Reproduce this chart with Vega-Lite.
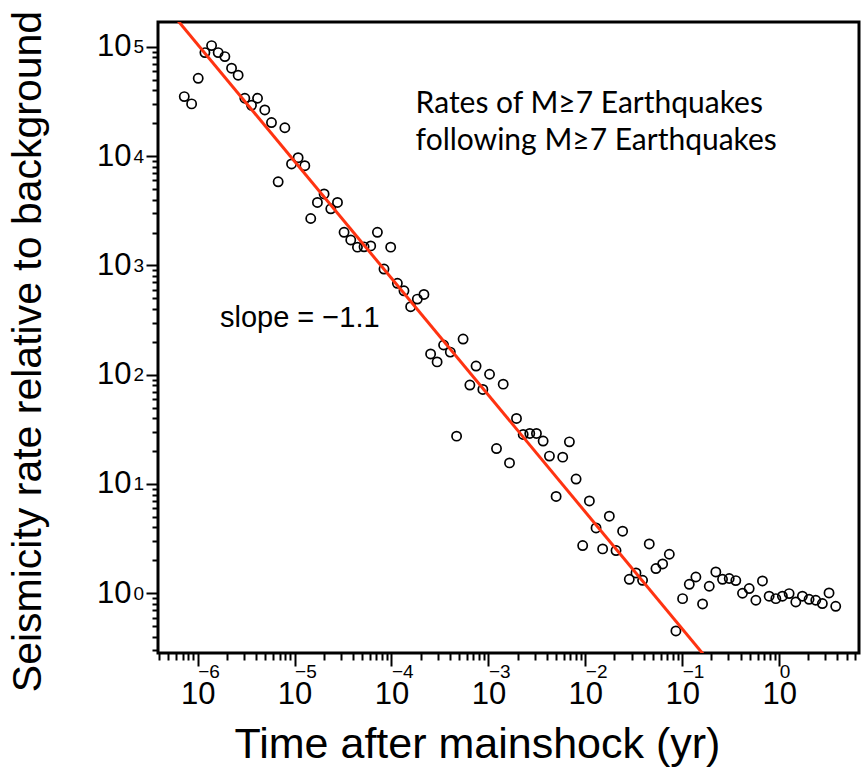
{
  "$schema": "https://vega.github.io/schema/vega-lite/v6.json",
  "autosize": {"type": "none"},
  "padding": {"left": 158, "top": 22, "right": 4, "bottom": 114},
  "width": 701,
  "height": 631,
  "background": "white",
  "config": {
    "view": {"stroke": "black", "strokeWidth": 3},
    "font": "Liberation Sans",
    "axis": {"domain": false, "grid": false, "labelColor": "black", "tickColor": "black", "tickWidth": 2, "labelOverlap": false, "labelFlush": false, "labelBound": false, "titleColor": "black", "titleFontWeight": "normal", "labelFont": "Liberation Sans", "titleFont": "Liberation Sans"}
  },
  "resolve": {"axis": {"x": "independent", "y": "independent"}},
  "layer": [
    {
      "data": {"values": [
        {"time": 7.28e-7, "rate": 35100},
        {"time": 8.67e-7, "rate": 30100},
        {"time": 1.014e-6, "rate": 51600},
        {"time": 1.189e-6, "rate": 88700},
        {"time": 1.393e-6, "rate": 102800},
        {"time": 1.629e-6, "rate": 88700},
        {"time": 1.910e-6, "rate": 81500},
        {"time": 2.239e-6, "rate": 63800},
        {"time": 2.618e-6, "rate": 55100},
        {"time": 3.069e-6, "rate": 33900},
        {"time": 3.597e-6, "rate": 29200},
        {"time": 4.150e-6, "rate": 33900},
        {"time": 4.932e-6, "rate": 26500},
        {"time": 5.781e-6, "rate": 20300},
        {"time": 6.776e-6, "rate": 5830},
        {"time": 7.943e-6, "rate": 18200},
        {"time": 9.311e-6, "rate": 8490},
        {"time": 1.089e-5, "rate": 9680},
        {"time": 1.276e-5, "rate": 8180},
        {"time": 1.469e-5, "rate": 2690},
        {"time": 1.722e-5, "rate": 3770},
        {"time": 2.018e-5, "rate": 4510},
        {"time": 2.366e-5, "rate": 3300},
        {"time": 2.773e-5, "rate": 3770},
        {"time": 3.243e-5, "rate": 2010},
        {"time": 3.802e-5, "rate": 1710},
        {"time": 4.457e-5, "rate": 1470},
        {"time": 5.212e-5, "rate": 1480},
        {"time": 6.109e-5, "rate": 1510},
        {"time": 7.161e-5, "rate": 2010},
        {"time": 8.375e-5, "rate": 927},
        {"time": 9.817e-5, "rate": 1470},
        {"time": 1.151e-4, "rate": 686},
        {"time": 1.346e-4, "rate": 586},
        {"time": 1.578e-4, "rate": 419},
        {"time": 1.849e-4, "rate": 492},
        {"time": 2.163e-4, "rate": 543},
        {"time": 2.535e-4, "rate": 155},
        {"time": 2.958e-4, "rate": 131},
        {"time": 3.451e-4, "rate": 187},
        {"time": 4.046e-4, "rate": 161},
        {"time": 4.699e-4, "rate": 27.4},
        {"time": 5.483e-4, "rate": 212},
        {"time": 6.442e-4, "rate": 80.4},
        {"time": 7.464e-4, "rate": 120},
        {"time": 8.770e-4, "rate": 73.3},
        {"time": 1.028e-3, "rate": 101},
        {"time": 1.213e-3, "rate": 21.1},
        {"time": 1.422e-3, "rate": 82.0},
        {"time": 1.652e-3, "rate": 15.6},
        {"time": 1.950e-3, "rate": 39.8},
        {"time": 2.286e-3, "rate": 28.4},
        {"time": 2.673e-3, "rate": 29.0},
        {"time": 3.133e-3, "rate": 29.0},
        {"time": 3.673e-3, "rate": 24.7},
        {"time": 4.266e-3, "rate": 18.0},
        {"time": 5.000e-3, "rate": 7.69},
        {"time": 5.848e-3, "rate": 17.6},
        {"time": 6.855e-3, "rate": 24.3},
        {"time": 8.035e-3, "rate": 11.1},
        {"time": 9.397e-3, "rate": 2.735},
        {"time": 1.102e-2, "rate": 7.00},
        {"time": 1.291e-2, "rate": 3.963},
        {"time": 1.510e-2, "rate": 2.547},
        {"time": 1.770e-2, "rate": 5.070},
        {"time": 2.075e-2, "rate": 2.460},
        {"time": 2.427e-2, "rate": 3.698},
        {"time": 2.844e-2, "rate": 1.343},
        {"time": 3.334e-2, "rate": 1.535},
        {"time": 3.899e-2, "rate": 1.315},
        {"time": 4.571e-2, "rate": 2.825},
        {"time": 5.358e-2, "rate": 1.683},
        {"time": 6.281e-2, "rate": 1.854},
        {"time": 7.362e-2, "rate": 2.275},
        {"time": 8.610e-2, "rate": 0.452},
        {"time": 0.1009, "rate": 0.893},
        {"time": 0.1183, "rate": 1.208},
        {"time": 0.1384, "rate": 1.409},
        {"time": 0.1622, "rate": 0.798},
        {"time": 0.1901, "rate": 1.159},
        {"time": 0.2223, "rate": 1.567},
        {"time": 0.2606, "rate": 1.343},
        {"time": 0.3055, "rate": 1.365},
        {"time": 0.3573, "rate": 1.306},
        {"time": 0.4188, "rate": 1.000},
        {"time": 0.4909, "rate": 1.104},
        {"time": 0.5754, "rate": 0.863},
        {"time": 0.6730, "rate": 1.297},
        {"time": 0.7889, "rate": 0.940},
        {"time": 0.9247, "rate": 0.893},
        {"time": 1.081, "rate": 0.940},
        {"time": 1.268, "rate": 0.993},
        {"time": 1.486, "rate": 0.832},
        {"time": 1.738, "rate": 0.940},
        {"time": 2.037, "rate": 0.881},
        {"time": 2.388, "rate": 0.863},
        {"time": 2.793, "rate": 0.805},
        {"time": 3.273, "rate": 1.007},
        {"time": 3.837, "rate": 0.760}
      ]},
      "mark": {"type": "point", "shape": "circle", "filled": false, "stroke": "black", "strokeWidth": 1.7, "size": 85, "opacity": 1},
      "encoding": {
        "x": {"field": "time", "type": "quantitative", "scale": {"type": "log", "domain": [3.9e-7, 6.67], "nice": false},
          "axis": {"orient": "bottom", "values": [1e-6, 1e-5, 1e-4, 1e-3, 1e-2, 1e-1, 1], "tickSize": 13, "labelExpr": "'10'", "labelFontSize": 31, "labelAlign": "center", "labelDx": -11, "labelBaseline": "alphabetic", "labelPadding": 37,
            "title": "Time after mainshock (yr)", "titleFontSize": 43, "titleX": 319, "titleY": 104, "titleAlign": "center", "titleBaseline": "alphabetic", "titleAnchor": "start"}},
        "y": {"field": "rate", "type": "quantitative", "scale": {"type": "log", "domain": [0.284, 169000], "nice": false},
          "axis": {"orient": "left", "values": [1, 10, 100, 1000, 10000, 100000], "tickSize": 12, "labelExpr": "'10'", "labelFontSize": 31, "labelAlign": "right", "labelBaseline": "middle", "labelDy": 7, "labelPadding": 15,
            "title": "Seismicity rate relative to background", "titleFontSize": 41, "titleX": -118, "titleY": 329, "titleAngle": -90, "titleAlign": "center", "titleBaseline": "alphabetic", "titleAnchor": "start"}}
      }
    },
    {
      "data": {"values": [
        {"time": 3.98e-7, "rate": 282000},
        {"time": 0.251, "rate": 0.1766}
      ]},
      "mark": {"type": "line", "color": "#FF3311", "strokeWidth": 3, "clip": true},
      "encoding": {
        "x": {"field": "time", "type": "quantitative", "scale": {"type": "log", "domain": [3.9e-7, 6.67], "nice": false},
          "axis": {"orient": "bottom", "values": [4e-7, 5e-7, 6e-7, 7e-7, 8e-7, 9e-7, 2e-6, 3e-6, 4e-6, 5e-6, 6e-6, 7e-6, 8e-6, 9e-6, 2e-5, 3e-5, 4e-5, 5e-5, 6e-5, 7e-5, 8e-5, 9e-5, 2e-4, 3e-4, 4e-4, 5e-4, 6e-4, 7e-4, 8e-4, 9e-4, 2e-3, 3e-3, 4e-3, 5e-3, 6e-3, 7e-3, 8e-3, 9e-3, 0.02, 0.03, 0.04, 0.05, 0.06, 0.07, 0.08, 0.09, 0.2, 0.3, 0.4, 0.5, 0.6, 0.7, 0.8, 0.9, 2, 3, 4, 5, 6], "tickSize": 7, "labels": false, "title": null}},
        "y": {"field": "rate", "type": "quantitative", "scale": {"type": "log", "domain": [0.284, 169000], "nice": false},
          "axis": {"orient": "left", "values": [0.3, 0.4, 0.5, 0.6, 0.7, 0.8, 0.9, 2, 3, 4, 5, 6, 7, 8, 9, 20, 30, 40, 50, 60, 70, 80, 90, 200, 300, 400, 500, 600, 700, 800, 900, 2000, 3000, 4000, 5000, 6000, 7000, 8000, 9000, 20000, 30000, 40000, 50000, 60000, 70000, 80000, 90000], "tickSize": 6, "labels": false, "title": null}}
      }
    },
    {
      "data": {"values": [{}]},
      "mark": {"type": "text", "text": "slope = −1.1", "fontSize": 29, "font": "Liberation Sans", "align": "left", "baseline": "alphabetic", "color": "black"},
      "encoding": {
        "x": {"datum": 1.70e-6, "type": "quantitative", "scale": {"type": "log", "domain": [3.9e-7, 6.67], "nice": false},
          "axis": {"orient": "bottom", "values": [1e-6, 1e-5, 1e-4, 1e-3, 1e-2, 1e-1, 1], "ticks": false, "tickSize": 0, "labelExpr": "format(round(log(datum.value)/LN10), 'd')", "labelFontSize": 19, "labelAlign": "left", "labelDx": 8, "labelBaseline": "alphabetic", "labelPadding": 24, "title": null}},
        "y": {"datum": 275, "type": "quantitative", "scale": {"type": "log", "domain": [0.284, 169000], "nice": false},
          "axis": {"orient": "left", "values": [1, 10, 100, 1000, 10000, 100000], "ticks": false, "tickSize": 0, "labelExpr": "format(round(log(datum.value)/LN10), 'd')", "labelFontSize": 19, "labelAlign": "left", "labelBaseline": "middle", "labelDy": -4, "labelPadding": 25, "title": null}}
      }
    },
    {
      "data": {"values": [{}]},
      "mark": {"type": "text", "text": ["Rates of M≥7 Earthquakes", "following M≥7 Earthquakes"], "fontSize": 30, "font": "Lato", "align": "left", "baseline": "alphabetic", "lineHeight": 37, "color": "black"},
      "encoding": {
        "x": {"datum": 1.775e-4, "type": "quantitative", "scale": {"type": "log", "domain": [3.9e-7, 6.67], "nice": false}, "axis": null},
        "y": {"datum": 24900, "type": "quantitative", "scale": {"type": "log", "domain": [0.284, 169000], "nice": false}, "axis": null}
      }
    }
  ]
}
